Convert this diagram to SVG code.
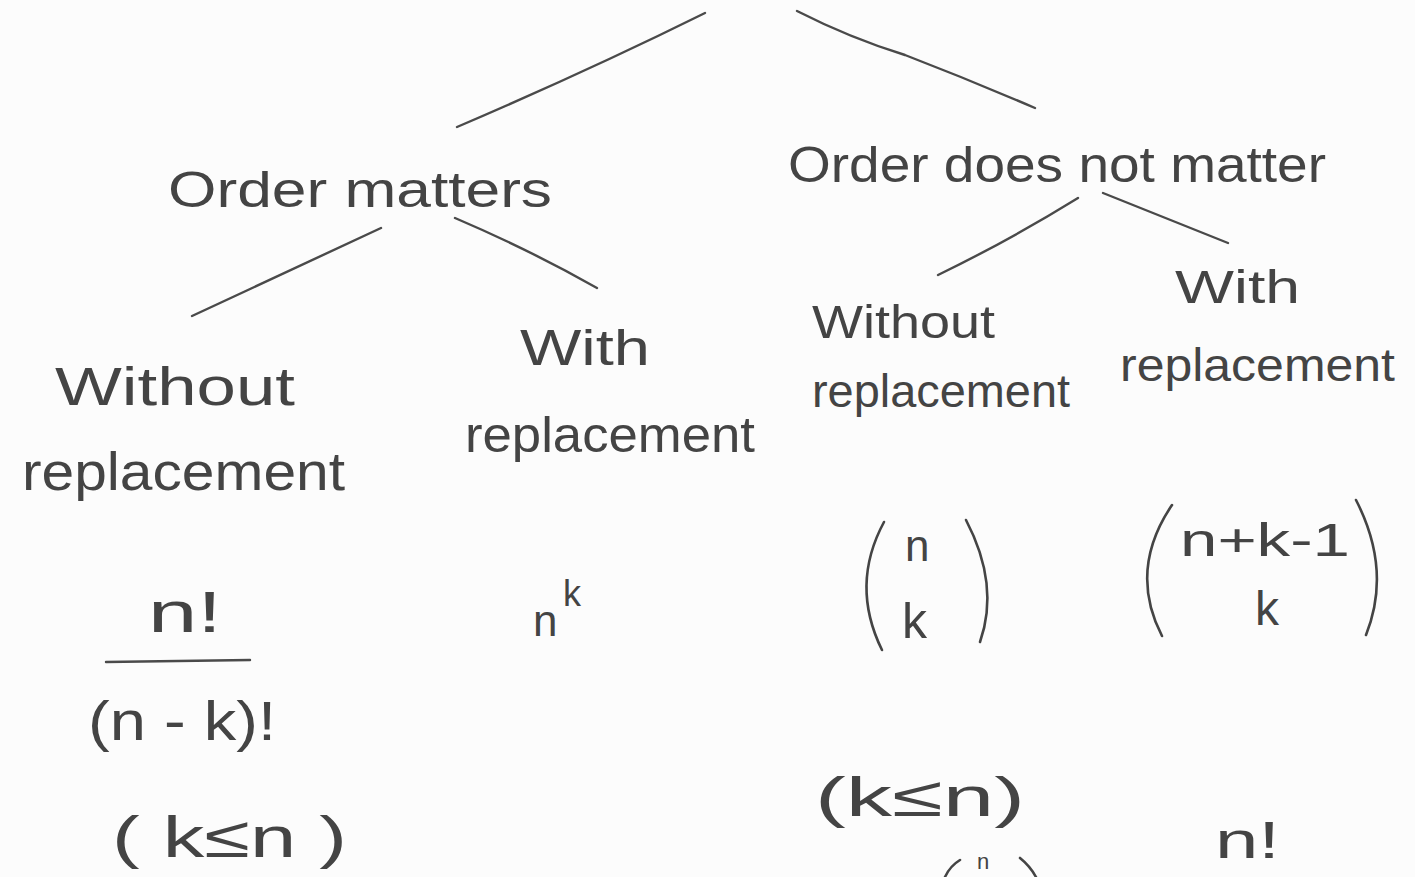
<svg xmlns="http://www.w3.org/2000/svg" width="1415" height="877" viewBox="0 0 1415 877">
<style>
.t{font-family:"Liberation Sans","DejaVu Sans",sans-serif;fill:#444;font-weight:normal}
.l{fill:none;stroke:#4a4a4a;stroke-width:2.4;stroke-linecap:round}
.p{fill:none;stroke:#444;stroke-width:2.6;stroke-linecap:round}
</style>
<rect width="1415" height="877" fill="#fcfcfc"/>
<g id="connectors">
<path class="l" d="M457,127 Q590,70 705,13"/>
<path class="l" d="M797,11 Q850,38 905,55 Q970,80 1035,108"/>
<path class="l" d="M381,228 Q290,270 192,316"/>
<path class="l" d="M455,218 Q530,250 597,288"/>
<path class="l" d="M1078,198 Q1010,240 938,275"/>
<path class="l" d="M1103,193 Q1170,220 1228,243"/>
</g>
<g id="order-matters"><text class="t" x="168" y="207" font-size="50" textLength="384" lengthAdjust="spacingAndGlyphs">Order matters</text></g>
<g id="order-not-matter"><text class="t" x="788" y="182" font-size="50" textLength="538" lengthAdjust="spacingAndGlyphs">Order does not matter</text></g>
<g id="om-without">
<text class="t" x="55" y="405" font-size="54" textLength="240" lengthAdjust="spacingAndGlyphs">Without</text>
<text class="t" x="22" y="490" font-size="54" textLength="323" lengthAdjust="spacingAndGlyphs">replacement</text>
</g>
<g id="om-with">
<text class="t" x="520" y="365" font-size="50" textLength="130" lengthAdjust="spacingAndGlyphs">With</text>
<text class="t" x="465" y="452" font-size="50" textLength="290" lengthAdjust="spacingAndGlyphs">replacement</text>
</g>
<g id="onm-without">
<text class="t" x="812" y="338" font-size="46" textLength="183" lengthAdjust="spacingAndGlyphs">Without</text>
<text class="t" x="812" y="407" font-size="46" textLength="258" lengthAdjust="spacingAndGlyphs">replacement</text>
</g>
<g id="onm-with">
<text class="t" x="1175" y="303" font-size="46" textLength="125" lengthAdjust="spacingAndGlyphs">With</text>
<text class="t" x="1120" y="381" font-size="46" textLength="275" lengthAdjust="spacingAndGlyphs">replacement</text>
</g>
<g id="formula-perm">
<text class="t" x="148" y="632" font-size="58" textLength="74" lengthAdjust="spacingAndGlyphs">n!</text>
<path class="l" d="M106,662 L250,660"/>
<text class="t" x="88" y="740" font-size="56" textLength="188" lengthAdjust="spacingAndGlyphs">(n - k)!</text>
<text class="t" x="112" y="857" font-size="58" textLength="235" lengthAdjust="spacingAndGlyphs">( k≤n )</text>
</g>
<g id="formula-power">
<text class="t" x="533" y="636" font-size="44">n</text>
<text class="t" x="563" y="606" font-size="36">k</text>
</g>
<g id="formula-binom">
<path class="p" d="M884,522 Q850,585 882,650"/>
<path class="p" d="M966,520 Q1000,585 980,642"/>
<text class="t" x="905" y="561" font-size="44">n</text>
<text class="t" x="902" y="638" font-size="50">k</text>
</g>
<g id="formula-multiset">
<path class="p" d="M1172,505 Q1128,570 1162,636"/>
<path class="p" d="M1356,500 Q1392,570 1366,635"/>
<text class="t" x="1180" y="556" font-size="46" textLength="170" lengthAdjust="spacingAndGlyphs">n+k-1</text>
<text class="t" x="1255" y="625" font-size="48">k</text>
</g>
<g id="cond-binom"><text class="t" x="815" y="816" font-size="56" textLength="210" lengthAdjust="spacingAndGlyphs">(k≤n)</text></g>
<g id="nfact"><text class="t" x="1215" y="858" font-size="52" textLength="65" lengthAdjust="spacingAndGlyphs">n!</text></g>
<g id="partial-binom">
<path class="p" d="M945,877 Q950,866 960,860"/>
<path class="p" d="M1020,858 Q1030,866 1036,877"/>
<text class="t" x="977" y="869" font-size="22">n</text>
</g>
</svg>
